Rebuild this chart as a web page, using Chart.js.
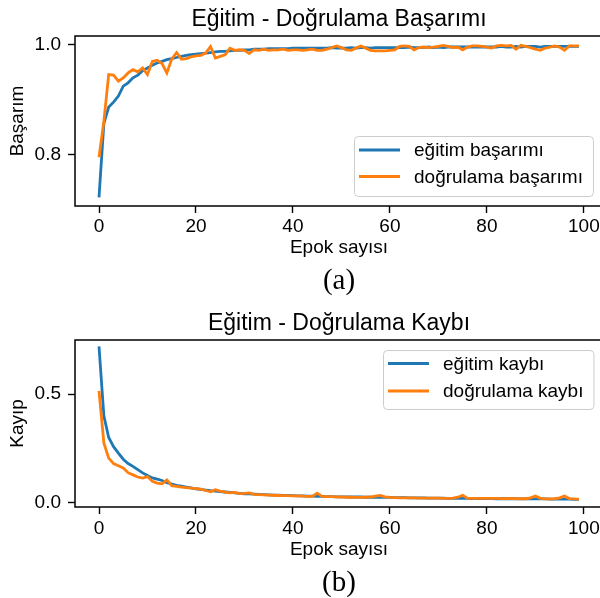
<!DOCTYPE html>
<html><head><meta charset="utf-8">
<script src="https://cdn.jsdelivr.net/npm/chart.js@4.4.1/dist/chart.umd.min.js"></script>
<style>
html,body{margin:0;padding:0;overflow:hidden;background:#fff;width:600px;height:598px;}
#wrap{position:relative;width:600px;height:598px;overflow:hidden;background:#fff;}
canvas{position:absolute;left:0;}
.cap{position:absolute;left:0;width:678px;text-align:center;font-family:'Liberation Serif','Times New Roman',serif;font-size:29px;line-height:1;color:#000;}
</style></head>
<body><div id="wrap">
<canvas id="c1" width="610" height="268" style="top:0px"></canvas>
<div class="cap" style="top:265px">(a)</div>
<canvas id="c2" width="610" height="265" style="top:304px"></canvas>
<div class="cap" style="top:567px">(b)</div>
</div>
<script>
// ---- data ----
const epochs = [0,1,2,3,4,5,6,7,8,9,10,11,12,13,14,15,16,17,18,19,20,21,22,23,24,25,26,27,28,29,30,31,32,33,34,35,36,37,38,39,40,41,42,43,44,45,46,47,48,49,50,51,52,53,54,55,56,57,58,59,60,61,62,63,64,65,66,67,68,69,70,71,72,73,74,75,76,77,78,79,80,81,82,83,84,85,86,87,88,89,90,91,92,93,94,95,96,97,98,99];
const trainAcc = [0.722,0.856,0.886,0.895,0.906,0.924,0.930,0.939,0.944,0.952,
 0.957,0.962,0.966,0.969,0.972,0.974,0.976,0.978,0.980,0.981,
 0.982,0.983,0.984,0.985,0.986,0.987,0.987,0.988,0.989,0.989,
 0.990,0.990,0.991,0.991,0.991,0.992,0.992,0.992,0.992,0.992,
 0.993,0.993,0.993,0.993,0.993,0.993,0.993,0.993,0.994,0.993,
 0.993,0.993,0.994,0.993,0.994,0.994,0.993,0.994,0.994,0.994,
 0.994,0.994,0.994,0.994,0.995,0.994,0.994,0.994,0.995,0.994,
 0.995,0.994,0.995,0.995,0.995,0.995,0.995,0.995,0.995,0.995,
 0.995,0.995,0.995,0.996,0.995,0.995,0.996,0.995,0.996,0.996,
 0.996,0.995,0.996,0.996,0.996,0.996,0.996,0.996,0.996,0.996];
const valAcc = [0.795,0.860,0.945,0.944,0.933,0.939,0.948,0.954,0.950,0.957,
 0.945,0.969,0.971,0.965,0.948,0.973,0.985,0.973,0.974,0.977,
 0.979,0.980,0.984,0.996,0.975,0.978,0.981,0.993,0.989,0.990,
 0.989,0.983,0.990,0.989,0.991,0.989,0.990,0.990,0.991,0.989,
 0.990,0.990,0.989,0.990,0.991,0.989,0.989,0.991,0.994,0.997,
 0.994,0.990,0.989,0.993,0.997,0.993,0.989,0.988,0.988,0.988,
 0.989,0.990,0.996,0.997,0.996,0.990,0.994,0.995,0.994,0.995,
 0.996,0.998,0.996,0.994,0.995,0.990,0.995,0.997,0.997,0.996,
 0.995,0.993,0.997,0.998,0.997,0.998,0.991,0.998,0.996,0.994,
 0.991,0.989,0.993,0.995,0.997,0.995,0.989,0.997,0.997,0.997];
const trainLoss = [0.720,0.400,0.300,0.258,0.228,0.200,0.180,0.167,0.152,0.137,
 0.125,0.114,0.108,0.102,0.092,0.086,0.080,0.076,0.072,0.068,
 0.064,0.061,0.058,0.055,0.053,0.051,0.049,0.047,0.045,0.043,
 0.041,0.040,0.039,0.038,0.037,0.036,0.035,0.034,0.033,0.033,
 0.032,0.031,0.031,0.030,0.030,0.029,0.029,0.028,0.028,0.027,
 0.027,0.027,0.026,0.026,0.026,0.025,0.025,0.025,0.024,0.024,
 0.024,0.023,0.023,0.023,0.022,0.022,0.022,0.022,0.021,0.021,
 0.021,0.021,0.020,0.020,0.020,0.020,0.020,0.019,0.019,0.019,
 0.019,0.019,0.018,0.018,0.018,0.018,0.018,0.017,0.017,0.017,
 0.017,0.017,0.017,0.016,0.016,0.016,0.016,0.016,0.015,0.015];
const valLoss = [0.515,0.275,0.205,0.180,0.170,0.160,0.138,0.128,0.118,0.113,
 0.120,0.098,0.090,0.087,0.105,0.078,0.075,0.072,0.069,0.067,
 0.065,0.062,0.056,0.050,0.060,0.053,0.049,0.045,0.047,0.042,
 0.043,0.045,0.038,0.037,0.036,0.035,0.034,0.033,0.032,0.032,
 0.031,0.031,0.030,0.029,0.029,0.044,0.029,0.028,0.028,0.027,
 0.026,0.025,0.025,0.024,0.024,0.025,0.026,0.030,0.033,0.027,
 0.024,0.023,0.022,0.022,0.022,0.022,0.021,0.021,0.021,0.021,
 0.021,0.020,0.020,0.021,0.025,0.034,0.021,0.020,0.020,0.020,
 0.020,0.020,0.020,0.019,0.019,0.020,0.019,0.018,0.018,0.022,
 0.031,0.020,0.017,0.017,0.018,0.022,0.030,0.019,0.017,0.016];
const xTicks = [0,20,40,60,80,100];
const accTicks = [0.8,1.0];
const lossTicks = [0.0,0.5];

const FONT = "'Liberation Sans', Arial, sans-serif";
Chart.defaults.font.family = FONT;
Chart.defaults.color = '#000';

const framePlugin = {
  id: 'frame',
  afterDatasetsDraw(chart) {
    const {ctx, chartArea: a} = chart;
    ctx.save();
    ctx.strokeStyle = '#000';
    ctx.lineWidth = 1.5;
    ctx.strokeRect(a.left, a.top, a.right - a.left, a.bottom - a.top);
    ctx.restore();
  }
};

const boxLegend = {
  id: 'boxLegend',
  afterDraw(chart, args, o) {
    const {ctx, chartArea: a} = chart;
    ctx.save();
    ctx.font = o.fontSize + 'px ' + FONT;
    const items = chart.data.datasets.map(d => ({label: d.label, color: d.borderColor}));
    const tw = Math.max(...items.map(i => ctx.measureText(i.label).width));
    const w = o.padL + o.handle + o.gap + tw + o.padR;
    const h = o.height;
    const x = Math.round(a.right - o.inset - w);
    const y = o.loc === 'lower right' ? Math.round(a.bottom - o.inset - h) : Math.round(a.top + o.inset);
    ctx.beginPath();
    if (ctx.roundRect) ctx.roundRect(x + 0.5, y + 0.5, w, h, 4); else ctx.rect(x + 0.5, y + 0.5, w, h);
    ctx.fillStyle = 'rgba(255,255,255,0.8)';
    ctx.fill();
    ctx.strokeStyle = '#cccccc';
    ctx.lineWidth = 1;
    ctx.stroke();
    items.forEach((it, i) => {
      const cy = y + o.row0 + i * o.rowGap;
      ctx.strokeStyle = it.color;
      ctx.lineWidth = 2.8;
      ctx.beginPath();
      ctx.moveTo(x + o.padL, cy);
      ctx.lineTo(x + o.padL + o.handle, cy);
      ctx.stroke();
      ctx.fillStyle = '#000';
      ctx.textBaseline = 'middle';
      ctx.textAlign = 'left';
      ctx.fillText(it.label, x + o.padL + o.handle + o.gap, cy + 1);
    });
    ctx.restore();
  }
};

function makeChart(id, cfg) {
  const ds = (label, vals, color, order) => ({
    label, data: epochs.map((e, i) => ({x: e, y: vals[i]})),
    borderColor: color, backgroundColor: color, borderWidth: 2.8,
    pointRadius: 0, tension: 0, fill: false, order
  });
  return new Chart(document.getElementById(id), {
    type: 'line',
    data: {datasets: [ds(cfg.l1, cfg.s1, '#1f77b4', 1), ds(cfg.l2, cfg.s2, '#ff7f0e', 0)]},
    options: {
      responsive: false, animation: false, devicePixelRatio: 1,
      layout: {padding: {left: 0, right: 7, top: 0, bottom: 0}},
      plugins: {
        legend: {display: false}, tooltip: {enabled: false},
        title: {display: true, text: cfg.title, fullSize: false, color: '#000',
          font: {size: 23, weight: 'normal', family: FONT}, padding: {top: 6.2, bottom: 2.2}},
        boxLegend: cfg.legend
      },
      scales: {
        x: {
          type: 'linear', min: -4.95, max: 103.95,
          afterBuildTicks: s => { s.ticks = xTicks.map(v => ({value: v})); },
          afterFit: s => { s.height = 62; },
          border: {display: false},
          grid: {display: true, drawOnChartArea: false, drawTicks: true, tickLength: 7, tickColor: '#000', tickWidth: 1.4, color: '#000'},
          ticks: {color: '#000', font: {size: 19}, padding: cfg.tickPad, maxRotation: 0, autoSkip: false, callback: v => String(v)},
          title: {display: true, text: 'Epok sayısı', color: '#000', font: {size: 19}, padding: {top: 0, bottom: cfg.xTitlePad}}
        },
        y: {
          min: cfg.ymin, max: cfg.ymax,
          afterBuildTicks: s => { s.ticks = cfg.yticks.map(v => ({value: v})); },
          afterFit: s => { s.width = 75; },
          border: {display: false},
          grid: {display: true, drawOnChartArea: false, drawTicks: true, tickLength: 7, tickColor: '#000', tickWidth: 1.4, color: '#000'},
          ticks: {color: '#000', font: {size: 19}, padding: 7, callback: v => Number(v).toFixed(1)},
          title: {display: true, text: cfg.ylabel, color: '#000', font: {size: 19}, padding: {top: 6, bottom: 0}}
        }
      }
    },
    plugins: [framePlugin, boxLegend]
  });
}

makeChart('c1', {
  title: 'Eğitim - Doğrulama Başarımı', ylabel: 'Başarım',
  l1: 'eğitim başarımı', l2: 'doğrulama başarımı', s1: trainAcc, s2: valAcc,
  ymin: 0.7065, ymax: 1.015, yticks: accTicks, tickPad: 2.5, xTitlePad: 8.5,
  legend: {loc: 'lower right', inset: 10, height: 60, padL: 5, handle: 41, gap: 14, padR: 10, row0: 14, rowGap: 26.5, fontSize: 19}
});
makeChart('c2', {
  title: 'Eğitim - Doğrulama Kaybı', ylabel: 'Kayıp',
  l1: 'eğitim kaybı', l2: 'doğrulama kaybı', s1: trainLoss, s2: valLoss,
  ymin: -0.02, ymax: 0.749, yticks: lossTicks, tickPad: 3.3, xTitlePad: 7.5,
  legend: {loc: 'upper right', inset: 10, height: 59, padL: 5, handle: 41, gap: 14, padR: 10, row0: 13.5, rowGap: 27.5, fontSize: 19}
});
</script>
</body></html>
